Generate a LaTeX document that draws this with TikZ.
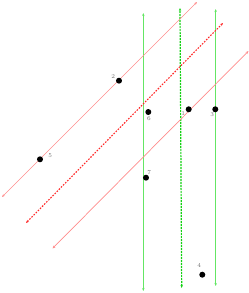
\documentclass[tikz,border=0pt]{standalone}
\usetikzlibrary{arrows.meta}
\definecolor{lred}{RGB}{255,140,140}
\definecolor{dred}{RGB}{255,40,40}
\definecolor{lgreen}{RGB}{100,230,100}
\definecolor{dgreen}{RGB}{20,210,20}
\definecolor{lblgray}{RGB}{110,110,110}
\tikzset{
  pt/.style={circle,fill=black,inner sep=0pt,minimum size=6pt},
  lbl/.style={inner sep=0pt,text=lblgray,font=\fontsize{6}{6}\selectfont},
  tips/.style={{Stealth[length=3pt,width=2.4pt]}-{Stealth[length=3pt,width=2.4pt]}},
  redline/.style={draw=lred,line width=0.7pt,tips},
  reddash/.style={draw=dred,line width=1.1pt,dash pattern=on 1.6pt off 1.4pt,tips},
  greenline/.style={draw=lgreen,line width=0.8pt,tips},
  greendash/.style={draw=dgreen,line width=1.2pt,dash pattern=on 2pt off 1pt,tips}
}
\begin{document}
\begin{tikzpicture}[x=1pt,y=-1pt]
\useasboundingbox (0,0) rectangle (249,293);
% line end coordinates
\coordinate (a1) at (2,197);
\coordinate (a2) at (197,2);
\coordinate (d1) at (26,223);
\coordinate (d2) at (223,23);
\coordinate (b1) at (52.5,248.5);
\coordinate (b2) at (248.5,51);
\coordinate (g1t) at (143.3,13);
\coordinate (g1b) at (143.3,291);
\coordinate (g2t) at (215.7,9);
\coordinate (g2b) at (215.7,286);
\coordinate (gdt) at (180,8);
\coordinate (gdb) at (181.7,288);
% green lines
\draw[greenline] (g1b) -- (g1t);
\draw[greenline] (g2b) -- (g2t);
\draw[greendash] (gdb) -- (gdt);
% red lines
\draw[redline] (a1) -- (a2);
\draw[reddash] (d1) -- (d2);
\draw[redline] (b1) -- (b2);
% points
\node[pt] (p1) at (188.7,109.3) {};
\node[pt] (p2) at (119,80.7) {};
\node[pt] (p3) at (215.3,109.3) {};
\node[pt] (p4) at (202.3,274.7) {};
\node[pt] (p5) at (40,159.3) {};
\node[pt] (p6) at (148.3,112) {};
\node[pt] (p7) at (146,177.7) {};
% labels
\node[lbl] (l1) at (183.3,113.3) {1};
\node[lbl] (l2) at (113.3,77) {2};
\node[lbl] (l3) at (212.3,114.3) {3};
\node[lbl] (l4) at (199.3,265.7) {4};
\node[lbl] (l5) at (50.3,155.7) {5};
\node[lbl] (l6) at (149,119) {6};
\node[lbl] (l7) at (149.3,173) {7};
\end{tikzpicture}
\end{document}
